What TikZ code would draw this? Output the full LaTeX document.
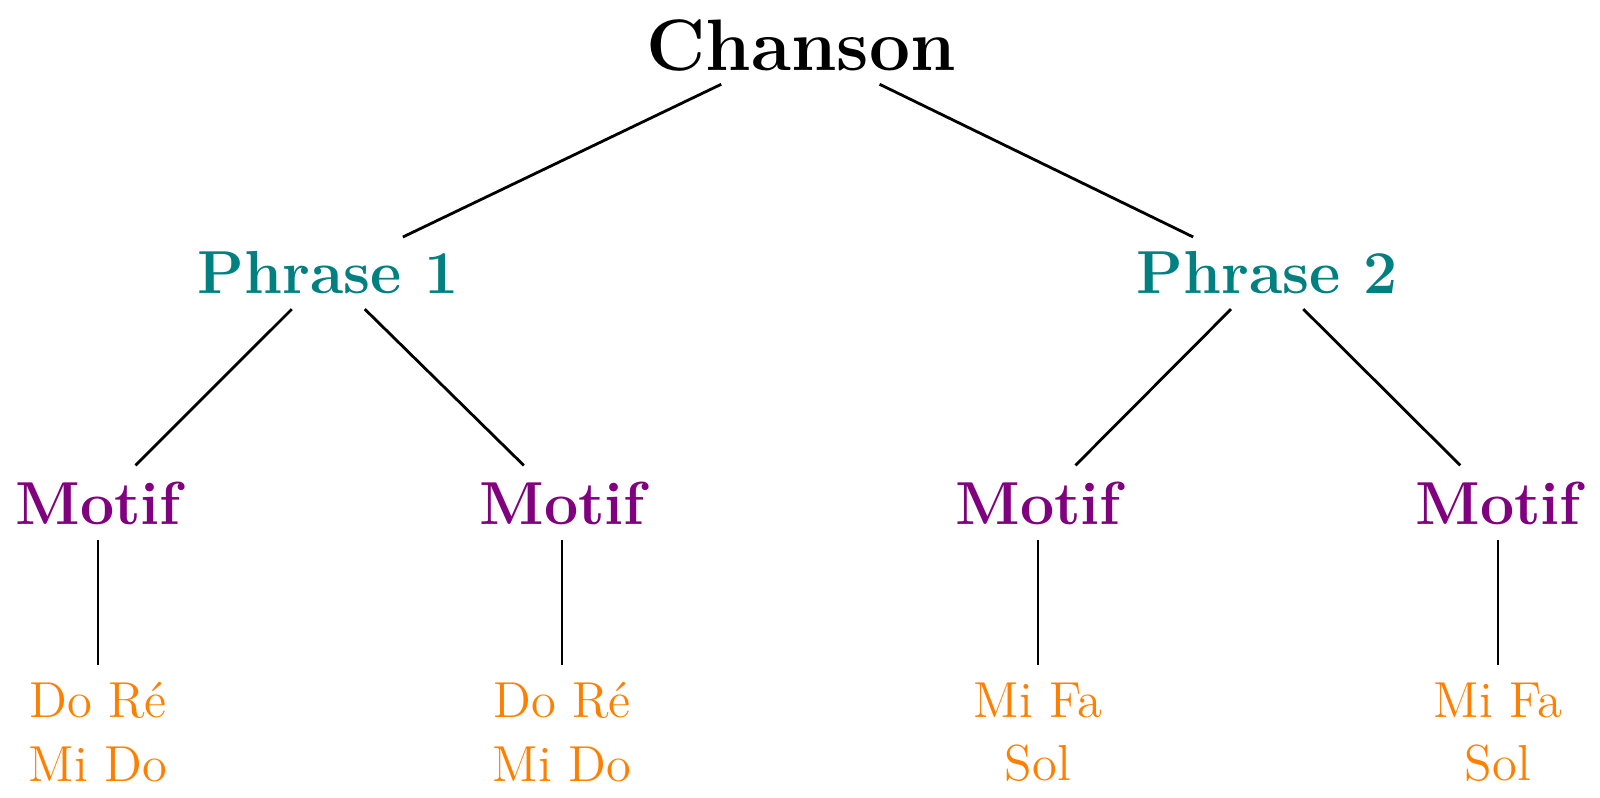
\documentclass[tikz,border=0pt]{standalone}
\usepackage{fontspec}
\definecolor{motifpurple}{RGB}{128,0,128}
\definecolor{phraseteal}{RGB}{0,128,128}
\definecolor{leaforange}{RGB}{255,128,0}
\begin{document}
\begin{tikzpicture}[
  rootnode/.style={font=\huge\bfseries, text=black},
  phrasenode/.style={font=\LARGE\bfseries, text=phraseteal},
  motifnode/.style={font=\LARGE\bfseries, text=motifpurple},
  leafnode/.style={font=\Large, text=leaforange, align=center},
  link/.style={draw=black, line width=0.8pt, shorten >=1.5pt, shorten <=1pt},
  rootlink/.style={draw=black, line width=0.8pt, shorten >=1.5pt}
]
\useasboundingbox (0,0) rectangle (16,7.98);
\node[rootnode] (root) at (8.01,7.52) {Chanson};
\node[phrasenode] (p1) at (3.28,5.25) {Phrase 1};
\node[phrasenode] (p2) at (12.67,5.25) {Phrase 2};
\node[motifnode] (m1) at (0.98,2.95) {Motif};
\node[motifnode] (m2) at (5.62,2.95) {Motif};
\node[motifnode] (m3) at (10.38,2.95) {Motif};
\node[motifnode] (m4) at (14.98,2.95) {Motif};
\node[leafnode] (l1) at (0.98,0.66) {Do Ré\\Mi Do};
\node[leafnode] (l2) at (5.62,0.66) {Do Ré\\Mi Do};
\node[leafnode] (l3) at (10.38,0.66) {Mi Fa\\Sol};
\node[leafnode] (l4) at (14.98,0.66) {Mi Fa\\Sol};
\draw[rootlink] (root) -- (p1);
\draw[rootlink] (root) -- (p2);
\draw[link] (p1) -- (m1);
\draw[link] (p1) -- (m2);
\draw[link] (p2) -- (m3);
\draw[link] (p2) -- (m4);
\draw[link] (m1) -- (l1);
\draw[link] (m2) -- (l2);
\draw[link] (m3) -- (l3);
\draw[link] (m4) -- (l4);
\end{tikzpicture}
\end{document}
